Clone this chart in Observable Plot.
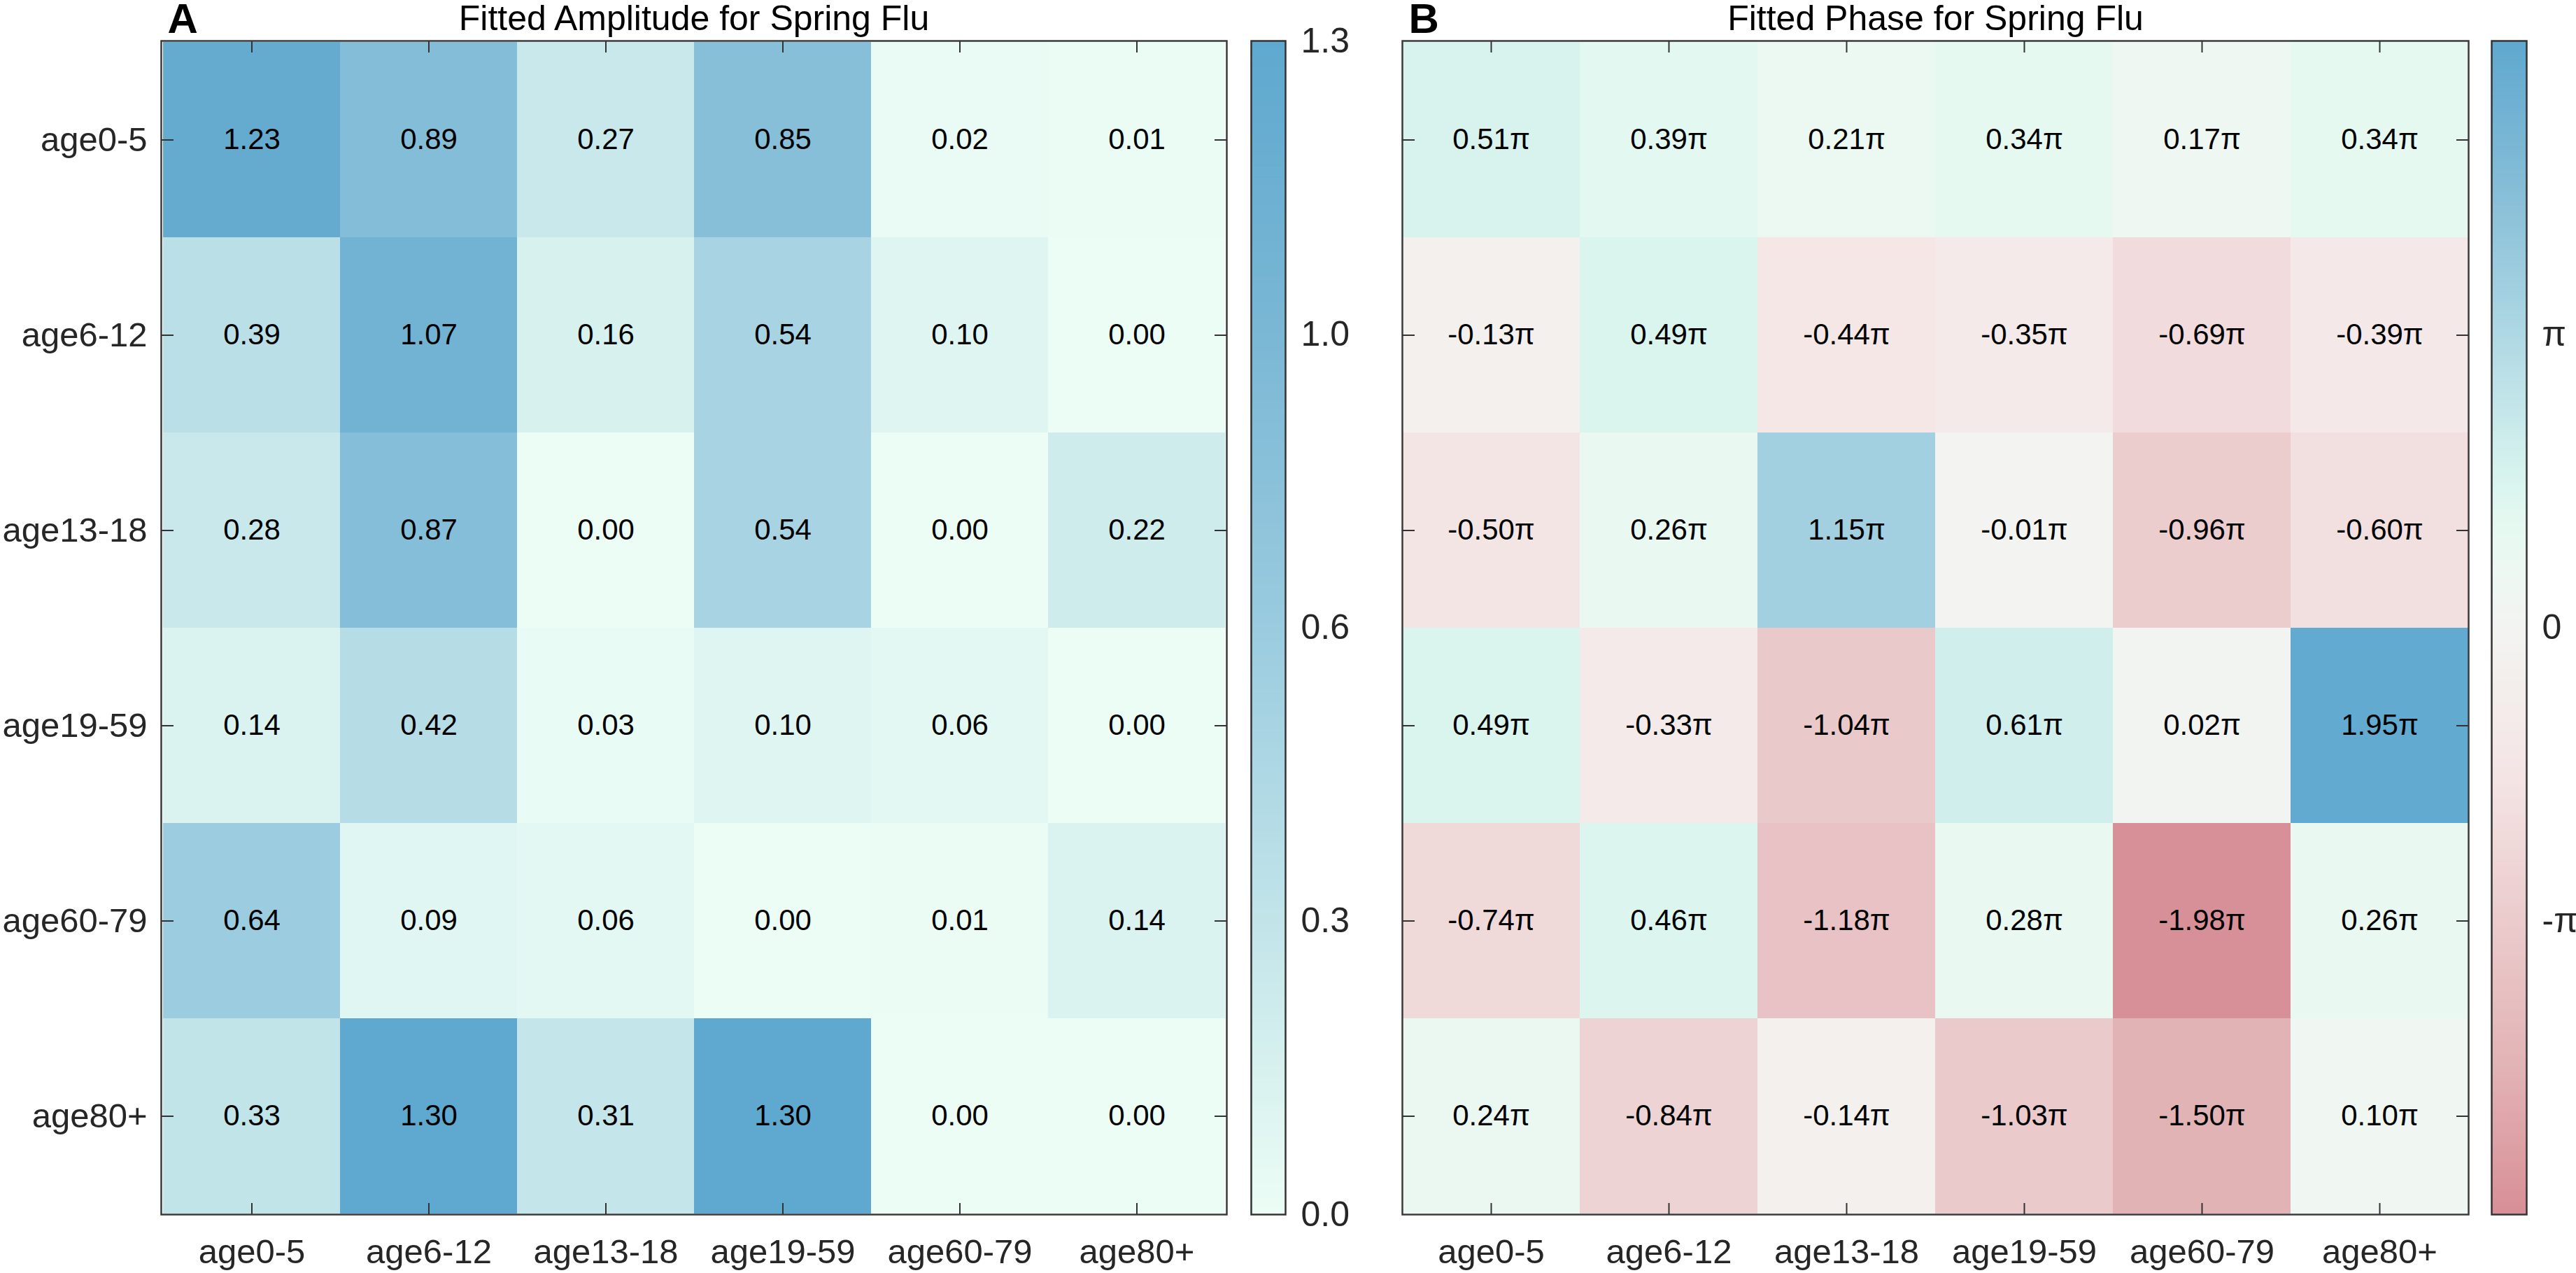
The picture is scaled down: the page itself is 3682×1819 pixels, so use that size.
<!DOCTYPE html>
<html><head><meta charset="utf-8">
<script src="https://cdn.jsdelivr.net/npm/d3@7"></script>
<script src="https://cdn.jsdelivr.net/npm/@observablehq/plot@0.6"></script>
<style>
body{margin:0;background:#fff;}
#wrap{position:relative;width:3682px;height:1819px;overflow:hidden;}
#wrap > svg{position:absolute;top:0;margin:0;overflow:visible;}
</style></head><body><div id="wrap"></div>
<script>
const groups = ["age0-5","age6-12","age13-18","age19-59","age60-79","age80+"];
const amplitude = [
  [1.23, 0.89, 0.27, 0.85, 0.02, 0.01],
  [0.39, 1.07, 0.16, 0.54, 0.10, 0.00],
  [0.28, 0.87, 0.00, 0.54, 0.00, 0.22],
  [0.14, 0.42, 0.03, 0.10, 0.06, 0.00],
  [0.64, 0.09, 0.06, 0.00, 0.01, 0.14],
  [0.33, 1.30, 0.31, 1.30, 0.00, 0.00]
];
// phase values in multiples of pi
const phase = [
  [0.51, 0.39, 0.21, 0.34, 0.17, 0.34],
  [-0.13, 0.49, -0.44, -0.35, -0.69, -0.39],
  [-0.50, 0.26, 1.15, -0.01, -0.96, -0.60],
  [0.49, -0.33, -1.04, 0.61, 0.02, 1.95],
  [-0.74, 0.46, -1.18, 0.28, -1.98, 0.26],
  [0.24, -0.84, -0.14, -1.03, -1.50, 0.10]
];
const ampTicks = [0, 0.325, 0.65, 0.975, 1.3];
const ampTickLabels = ["0.0", "0.3", "0.6", "1.0", "1.3"];
const phaseTicks = [-1, 0, 1];
const phaseTickLabels = ["-π", "0", "π"];

const ampColor = {type: "linear", domain: [0, 0.3, 0.65, 1.0, 1.3],
  range: ["#ecfdf5", "#c5e6ea", "#9acbdf", "#78b6d4", "#5fa8cf"], interpolate: "rgb", clamp: true};
const phaseColor = {type: "linear", domain: [-2, -1.5, -1, -0.5, 0, 0.2, 0.35, 0.5, 1, 1.5, 2],
  range: ["#d88f97", "#e2b3b5", "#ebcbcc", "#f4e5e5", "#f3f4f1", "#edf8f2", "#e5f9f1", "#d9f4ee", "#afd8e4", "#85bdd7", "#5fa8cf"],
  interpolate: "rgb", clamp: true};

const FONT = '"Liberation Sans", Arial, Helvetica, sans-serif';
const H = 1819, MT = 58, MB = 84;
const wrap = document.getElementById("wrap");

function toCells(m) {
  const out = [];
  m.forEach((row, i) => row.forEach((v, j) => out.push({row: groups[i], col: groups[j], v})));
  return out;
}

function panel({values, color, fmt, showY, title, letter, width, ml, mr, left}) {
  const data = toCells(values);
  const tickStyle = {stroke: "#333", strokeWidth: 2, tickFormat: () => "", label: null};
  const svg = Plot.plot({
    width, height: H, marginLeft: ml, marginRight: mr, marginTop: MT, marginBottom: MB,
    x: {domain: groups, padding: 0, label: null},
    y: {domain: groups, padding: 0, label: null},
    color,
    style: {fontFamily: FONT, fontSize: "49px", color: "#262626", background: "transparent", overflow: "visible"},
    marks: [
      Plot.cell(data, {x: "col", y: "row", fill: "v", inset: 0}),
      Plot.text(data, {x: "col", y: "row", text: d => fmt(d.v), fill: "#000", fontSize: 42}),
      Plot.frame({stroke: "#3a3a3a", strokeWidth: 2.5}),
      Plot.axisX({anchor: "bottom", tickSize: 0, tickPadding: 35, fontSize: 49, label: null}),
      Plot.axisX({anchor: "bottom", tickSize: 16, dy: -16, ...tickStyle}),
      Plot.axisX({anchor: "top", tickSize: 16, dy: 16, ...tickStyle}),
      showY ? Plot.axisY({anchor: "left", tickSize: 0, tickPadding: 20, fontSize: 49, label: null}) : null,
      Plot.axisY({anchor: "left", tickSize: 18, dx: 18, ...tickStyle}),
      Plot.axisY({anchor: "right", tickSize: 18, dx: -18, ...tickStyle}),
      Plot.text([title], {frameAnchor: "top", dy: -16, lineAnchor: "bottom", fontSize: 50, fill: "#000"}),
      Plot.text([letter], {frameAnchor: "top-left", dx: 9, dy: -12, lineAnchor: "bottom", textAnchor: "start", fontSize: 60, fontWeight: "bold", fill: "#000"})
    ]
  });
  svg.style.left = left + "px";
  wrap.appendChild(svg);
}

function colorbar({color, lo, hi, ticks, labels, width, mr, left}) {
  const n = 300;
  const steps = d3.range(n).map(i => {
    const a = lo + (hi - lo) * i / n, b = lo + (hi - lo) * (i + 1.5) / n;
    return {y1: a, y2: Math.min(b, hi), v: lo + (hi - lo) * (i + 0.5) / n};
  });
  const lab = new Map(ticks.map((t, i) => [t, labels[i]]));
  const svg = Plot.plot({
    width, height: H, marginLeft: 0, marginRight: mr, marginTop: MT, marginBottom: MB,
    x: {domain: [0, 1], axis: null},
    y: {domain: [lo, hi], label: null},
    color,
    style: {fontFamily: FONT, fontSize: "50px", color: "#262626", background: "transparent", overflow: "visible"},
    marks: [
      Plot.rect(steps, {x1: () => 0, x2: () => 1, y1: "y1", y2: "y2", fill: "v"}),
      Plot.frame({stroke: "#333", strokeWidth: 2.5}),
      Plot.axisY({anchor: "right", ticks, tickFormat: d => lab.get(d), tickSize: 0, tickPadding: 22, fontSize: 50, label: null})
    ]
  });
  svg.style.left = left + "px";
  wrap.appendChild(svg);
}

panel({values: amplitude, color: ampColor, fmt: v => v.toFixed(2), showY: true,
  title: "Fitted Amplitude for Spring Flu", letter: "A", width: 1760, ml: 230, mr: 7, left: 0});
colorbar({color: ampColor, lo: 0, hi: 1.3, ticks: ampTicks, labels: ampTickLabels, width: 200, mr: 151, left: 1788});
panel({values: phase, color: phaseColor, fmt: v => v.toFixed(2) + "π", showY: false,
  title: "Fitted Phase for Spring Flu", letter: "B", width: 1580, ml: 44, mr: 12, left: 1960});
colorbar({color: phaseColor, lo: -2, hi: 2, ticks: phaseTicks, labels: phaseTickLabels, width: 121, mr: 71, left: 3561});
</script></body></html>
